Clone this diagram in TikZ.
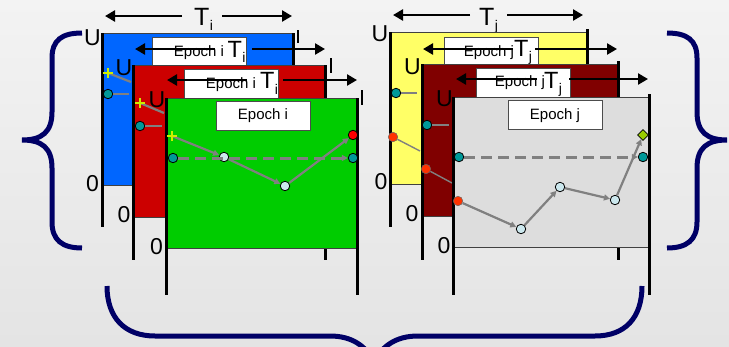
\documentclass[tikz,border=0pt]{standalone}
\usepackage{fontspec}
\setmainfont{Liberation Sans}
\usetikzlibrary{arrows.meta,shapes.geometric}

\definecolor{bgtop}{RGB}{243,243,243}
\definecolor{bgbot}{RGB}{228,228,228}
\definecolor{panelblue}{RGB}{0,102,255}
\definecolor{panelred}{RGB}{204,0,0}
\definecolor{panelgreen}{RGB}{0,204,0}
\definecolor{panelyellow}{RGB}{255,255,102}
\definecolor{panelmaroon}{RGB}{128,0,0}
\definecolor{panelgrey}{RGB}{221,221,221}
\definecolor{braceblue}{RGB}{0,0,102}
\definecolor{ptteal}{RGB}{0,153,153}
\definecolor{ptpale}{RGB}{204,232,238}
\definecolor{ptred}{RGB}{255,0,0}
\definecolor{ptorange}{RGB}{255,51,0}
\definecolor{ptlime}{RGB}{153,204,0}
\definecolor{ptplus}{RGB}{204,238,0}
\definecolor{tracegrey}{RGB}{128,128,128}

% T with a lowered index
\newcommand\Tsub[1]{T\kern0.3pt\raisebox{-5.5pt}{\fontsize{14}{14}\selectfont #1}}

% one epoch panel: left, top, right, fill bottom, axis bottom, fill colour
\newcommand\epochpanel[6]{%
  \fill[#6] (#1,#2) rectangle (#3,#4);
  \draw[panelrim] (#1,#2) rectangle (#3,#4);
  \draw[axisline] (#1,#2) -- (#1,#5);
  \draw[axisline] (#3,#2) -- (#3,#5);}

\tikzset{
  panelrim/.style={draw=black!75, line width=0.7pt},
  axisline/.style={line width=3pt},
  edgetick/.style={line width=1.6pt},
  epochbox/.style={draw=black!70, line width=0.7pt, fill=white, anchor=north west,
    minimum width=94pt, minimum height=29pt, inner sep=0pt},
  epochtext/.style={font=\fontsize{15}{15}\selectfont, inner sep=0pt},
  axislab/.style={font=\fontsize{23}{23}\selectfont, inner sep=0pt},
  spanlab/.style={font=\fontsize{25}{25}\selectfont, inner sep=0pt, anchor=base west},
  boxlab/.style={font=\fontsize{23.5}{23.5}\selectfont, inner sep=0pt, anchor=base west},
  spanarrow/.style={line width=2.6pt, -{Triangle[length=10pt,width=11pt]}},
  bracepath/.style={draw=braceblue, line width=5pt},
  traceline/.style={draw=tracegrey, line width=2.2pt},
  tracearrow/.style={traceline, -{Triangle[length=6pt,width=6pt]}},
  tracedash/.style={tracearrow, line width=3pt, dash pattern=on 11pt off 6pt},
  dot/.style={circle, draw=black, line width=0.8pt, minimum size=9.5pt, inner sep=0pt},
  tealdot/.style={dot, fill=ptteal},
  paledot/.style={dot, fill=ptpale},
  reddot/.style={dot, fill=ptred},
  orangedot/.style={dot, fill=ptorange, draw=black!60, line width=0.5pt},
  limediamond/.style={diamond, draw=black, fill=ptlime, minimum size=11pt,
    inner sep=0pt, line width=0.8pt},
  plusmark/.pic={
    \draw[line width=2.6pt, black!60] (-5,0) -- (5,0) (0,-5) -- (0,5);
    \draw[line width=1.3pt, ptplus] (-4.6,0) -- (4.6,0) (0,-4.6) -- (0,4.6);}
}

\begin{document}
\begin{tikzpicture}[x=1pt,y=-1pt]
\useasboundingbox (0,0) rectangle (729,346);
\shade[top color=bgtop, bottom color=bgbot] (0,0) rectangle (729,346);

% ---------------- epochs of node i ----------------
\node[spanlab] (Ti) at (194,25) {\Tsub{i}};
\coordinate (TiL) at (182,16); \coordinate (TiLend) at (105,16);
\coordinate (TiR) at (222,16); \coordinate (TiRend) at (292,16);
\draw[spanarrow] (TiL) -- (TiLend);
\draw[spanarrow] (TiR) -- (TiRend);

% first epoch (blue)
\epochpanel{102}{33}{293}{185}{227}{panelblue}
\draw[edgetick] (298,30) -- (298,43);
\node[axislab] (uA) at (92.5,38) {U};
\node[axislab] (zA) at (92.5,184) {0};
\node[epochbox] (boxA) at (152,37) {};
\coordinate (tAL) at (215,49); \coordinate (tALend) at (135,49);
\coordinate (tAR) at (252,49); \coordinate (tARend) at (325,49);
\draw[spanarrow] (tAL) -- (tALend);
\draw[spanarrow] (tAR) -- (tARend);
\node[epochtext] (eA) at (199,53) {Epoch i};
\node[boxlab] (tA) at (227.5,57) {\Tsub{i}};
\coordinate (plA) at (108,73); \coordinate (plAend) at (131,82);
\node[tealdot] (tdA) at (108,94) {}; \coordinate (tdAend) at (129,94);
\draw[traceline] (plA) -- (plAend);
\draw[traceline] (tdA) -- (tdAend);
\pic at (plA) {plusmark};

% second epoch (red)
\epochpanel{133}{65}{325}{217}{260}{panelred}
\draw[edgetick] (331,58) -- (331,73);
\node[axislab] (uB) at (124,67.5) {U};
\node[axislab] (zB) at (124,215) {0};
\node[epochbox] (boxB) at (184,69) {};
\coordinate (tBL) at (247,80); \coordinate (tBLend) at (167,80);
\coordinate (tBR) at (283,80); \coordinate (tBRend) at (357,80);
\draw[spanarrow] (tBL) -- (tBLend);
\draw[spanarrow] (tBR) -- (tBRend);
\node[epochtext] (eB) at (231,85) {Epoch i};
\node[boxlab] (tB) at (260,88.5) {\Tsub{i}};
\coordinate (plB) at (140,103); \coordinate (plBend) at (164,113);
\node[tealdot] (tdB) at (140,126) {}; \coordinate (tdBend) at (162,126);
\draw[traceline] (plB) -- (plBend);
\draw[traceline] (tdB) -- (tdBend);
\pic at (plB) {plusmark};

% third epoch (green)
\epochpanel{166}{98}{357}{248}{295}{panelgreen}
\draw[edgetick] (362,90) -- (362,105);
\node[axislab] (uC) at (157,100) {U};
\node[axislab] (zC) at (156.5,247) {0};
\node[epochbox] (boxC) at (216,101) {};
\node[epochtext] (eC) at (263,116) {Epoch i};
\coordinate (plC) at (172,136);
\node[tealdot] (tdC) at (173,158) {};
\node[paledot] (pC1) at (224,157) {};
\node[paledot] (pC2) at (285,186) {};
\node[reddot] (rC) at (353,135) {};
\node[tealdot] (tdC2) at (353,158) {};
\draw[tracedash] (tdC) -- (tdC2);
\draw[tracearrow] (plC) -- (pC1);
\draw[tracearrow] (pC1) -- (pC2);
\draw[tracearrow] (pC2) -- (rC);
\pic at (plC) {plusmark};

% ---------------- epochs of node j ----------------
\node[spanlab] (Tj) at (479,25) {\Tsub{j}};
\coordinate (TjL) at (470,15); \coordinate (TjLend) at (393,15);
\coordinate (TjR) at (507,15); \coordinate (TjRend) at (583,15);
\draw[spanarrow] (TjL) -- (TjLend);
\draw[spanarrow] (TjR) -- (TjRend);

% first epoch (yellow)
\epochpanel{390}{32}{587}{184}{227}{panelyellow}
\draw[axisline] (587,29) -- (587,33);
\node[axislab] (uD) at (380,34) {U};
\node[axislab] (zD) at (381,182) {0};
\node[epochbox] (boxD) at (444,37) {};
\coordinate (tDL) at (513,49); \coordinate (tDLend) at (423,49);
\coordinate (tDR) at (535,49); \coordinate (tDRend) at (617,49);
\draw[spanarrow] (tDL) -- (tDLend);
\draw[spanarrow] (tDR) -- (tDRend);
\node[epochtext] (eD) at (489,53) {Epoch j};
\node[boxlab] (tD) at (514,56) {\Tsub{j}};
\node[tealdot] (tdD) at (396,93) {}; \coordinate (tdDend) at (417,93);
\node[orangedot] (oD) at (393,137) {}; \coordinate (oDend) at (420,151);
\draw[traceline] (tdD) -- (tdDend);
\draw[traceline, line width=1.4pt] (oD) -- (oDend);

% second epoch (maroon)
\epochpanel{422}{64}{618}{216}{260}{panelmaroon}
\draw[axisline] (618,61) -- (618,65);
\node[axislab] (uE) at (412.5,66.5) {U};
\node[axislab] (zE) at (412,214) {0};
\node[epochbox] (boxE) at (476,68) {};
\coordinate (tEL) at (537,79); \coordinate (tELend) at (456,79);
\coordinate (tER) at (569,79); \coordinate (tERend) at (648,79);
\draw[spanarrow] (tEL) -- (tELend);
\draw[spanarrow] (tER) -- (tERend);
\node[epochtext] (eE) at (520,83) {Epoch j};
\node[boxlab] (tE) at (544,88) {\Tsub{j}};
\node[tealdot] (tdE) at (427,125) {}; \coordinate (tdEend) at (449,125);
\node[orangedot] (oE) at (426,169) {}; \coordinate (oEend) at (452,183);
\draw[traceline] (tdE) -- (tdEend);
\draw[traceline, line width=1.4pt] (oE) -- (oEend);

% third epoch (grey)
\epochpanel{453}{97}{649}{247}{295}{panelgrey}
\draw[axisline] (649,94) -- (649,98);
\node[axislab] (uF) at (444.5,99) {U};
\node[axislab] (zF) at (444,246) {0};
\node[epochbox] (boxF) at (508,100) {};
\node[epochtext] (eF) at (555,116) {Epoch j};
\node[tealdot] (tdF) at (459,157) {};
\node[orangedot] (oF) at (458,201) {};
\node[paledot] (pF1) at (521,229) {};
\node[paledot] (pF2) at (560,187) {};
\node[paledot] (pF3) at (615,200) {};
\node[limediamond] (dF) at (643,135) {};
\node[tealdot] (tdF2) at (643,157) {};
\draw[tracedash] (tdF) -- (tdF2);
\draw[tracearrow] (oF) -- (pF1);
\draw[tracearrow] (pF1) -- (pF2);
\draw[tracearrow] (pF2) -- (pF3);
\draw[tracearrow] (pF3) -- (dF);

% ---------------- braces ----------------
\draw[bracepath] (82,33) .. controls (62,33) and (52,40) .. (52,58) -- (52,112)
  .. controls (52,132) and (42,140) .. (22,140)
  .. controls (42,140) and (52,148) .. (52,168) -- (52,222)
  .. controls (52,240) and (62,248) .. (82,248);
\draw[bracepath] (667,33) .. controls (687,33) and (697,40) .. (697,58) -- (697,112)
  .. controls (697,132) and (707,140) .. (727,140)
  .. controls (707,140) and (697,148) .. (697,168) -- (697,222)
  .. controls (697,240) and (687,248) .. (667,248);
\draw[bracepath] (107,286) .. controls (107,318) and (125,336) .. (155,336) -- (330,336)
  .. controls (352,336) and (366,346) .. (374,362)
  .. controls (382,346) and (396,336) .. (418,336) -- (595,336)
  .. controls (625,336) and (642,318) .. (642,286);
\end{tikzpicture}
\end{document}
